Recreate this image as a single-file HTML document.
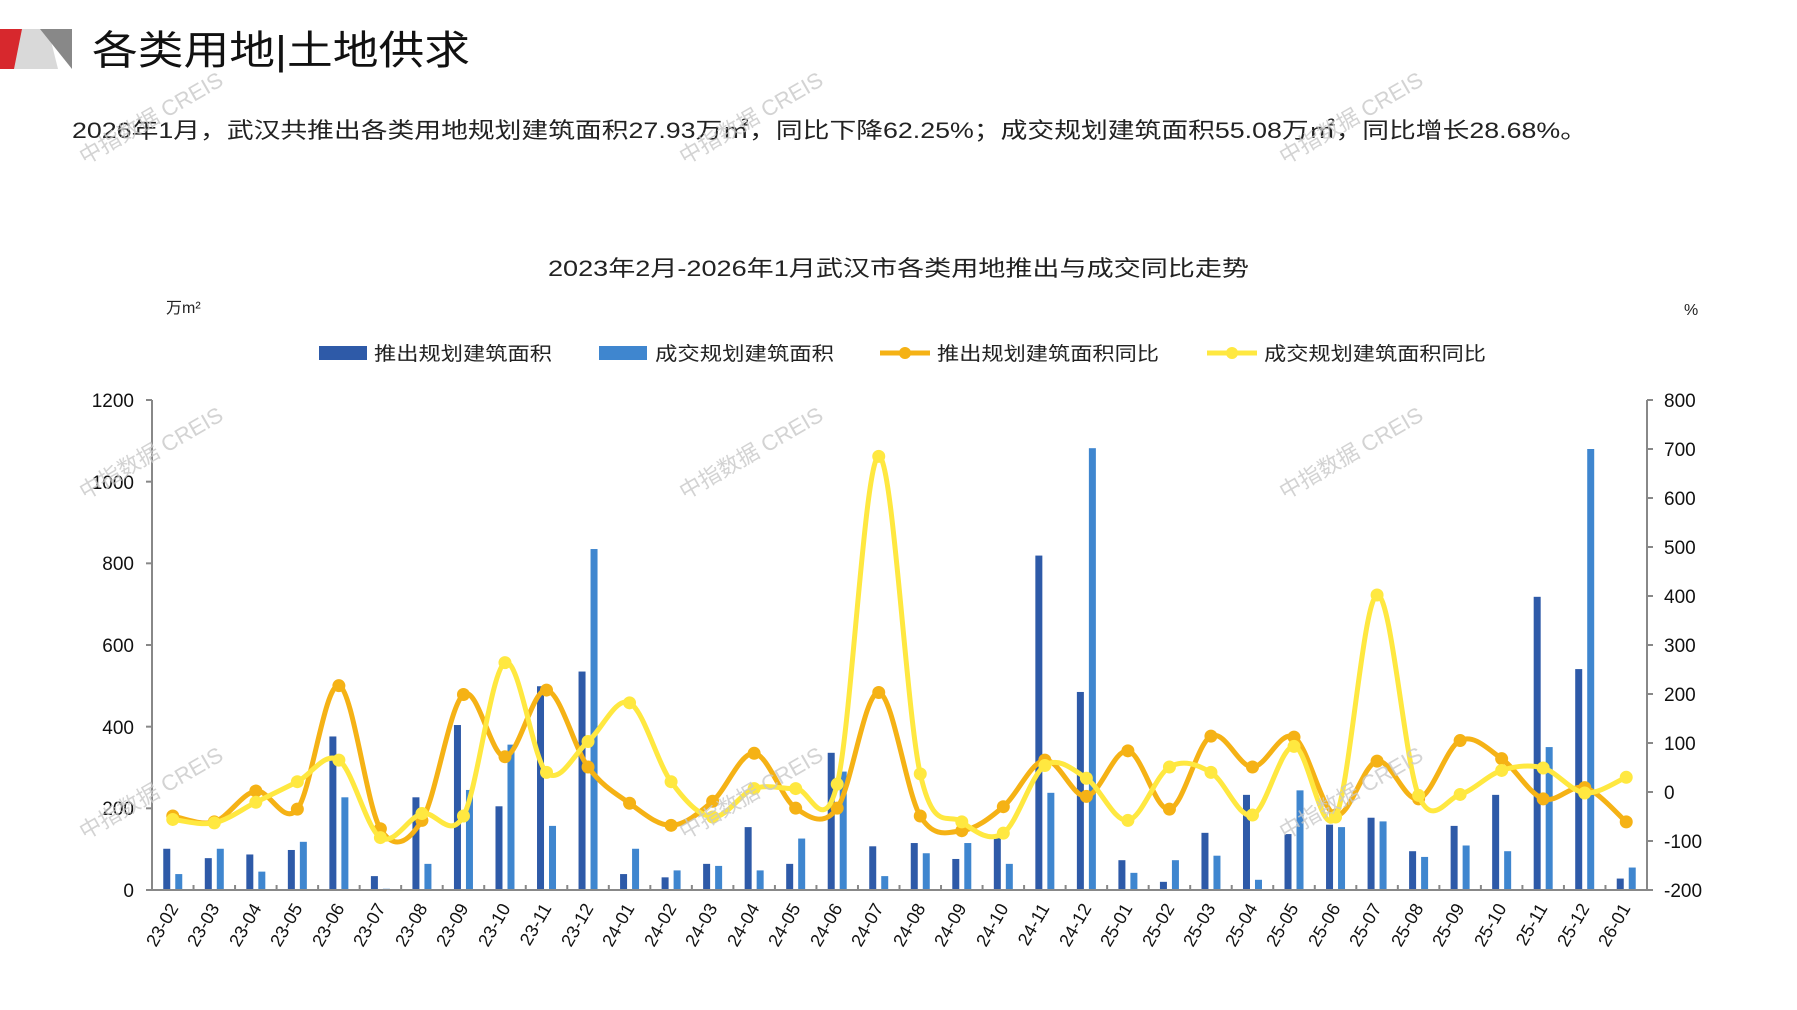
<!DOCTYPE html>
<html><head><meta charset="utf-8">
<style>
body{margin:0;background:#fff;width:1797px;height:1010px;overflow:hidden;font-family:"Liberation Sans","Noto Sans CJK SC",sans-serif;}
svg{position:absolute;left:0;top:0}
</style></head><body>
<svg id="s" width="1797" height="1010" xmlns="http://www.w3.org/2000/svg" font-family="'Liberation Sans','Noto Sans CJK SC',sans-serif">
<polygon points="0,29 30,29 22,69 0,69" fill="#d7282d"/>
<polygon points="22,29 48,29 58,69 14,69" fill="#d9d9d9"/>
<polygon points="40,29 72,29 72,69" fill="#888"/>
<text x="92" y="64" font-size="40" fill="#111" textLength="378" lengthAdjust="spacingAndGlyphs">各类用地|土地供求</text>
<text x="72" y="138" font-size="22" fill="#222" textLength="1515" lengthAdjust="spacingAndGlyphs">2026年1月，武汉共推出各类用地规划建筑面积27.93万㎡，同比下降62.25%；成交规划建筑面积55.08万㎡，同比增长28.68%。</text>
<text x="548" y="276" font-size="22" fill="#222" textLength="701" lengthAdjust="spacingAndGlyphs">2023年2月-2026年1月武汉市各类用地推出与成交同比走势</text>
<text x="166" y="313" font-size="16" fill="#222">万m²</text>
<text x="1684" y="315" font-size="16" fill="#222">%</text>
<g font-size="19" fill="#222">
<rect x="319" y="346" width="48" height="14" fill="#2E5AA8"/><text x="374" y="360" textLength="178" lengthAdjust="spacingAndGlyphs">推出规划建筑面积</text>
<rect x="599" y="346" width="48" height="14" fill="#3F86CF"/><text x="655" y="360" textLength="179" lengthAdjust="spacingAndGlyphs">成交规划建筑面积</text>
<line x1="880" y1="353" x2="930" y2="353" stroke="#F5B215" stroke-width="5"/><circle cx="905" cy="353" r="6" fill="#F5B215"/><text x="937" y="360" textLength="222" lengthAdjust="spacingAndGlyphs">推出规划建筑面积同比</text>
<line x1="1207" y1="353" x2="1257" y2="353" stroke="#FFE840" stroke-width="5"/><circle cx="1232" cy="353" r="6" fill="#FFE840"/><text x="1264" y="360" textLength="222" lengthAdjust="spacingAndGlyphs">成交规划建筑面积同比</text>
</g>
<g font-size="19" fill="#111" text-anchor="end">
<text x="134" y="407">1200</text><text x="134" y="489">1000</text><text x="134" y="570">800</text><text x="134" y="652">600</text><text x="134" y="734">400</text><text x="134" y="815">200</text><text x="134" y="897">0</text>
</g>
<g font-size="19" fill="#111">
<text x="1664" y="407">800</text><text x="1664" y="456">700</text><text x="1664" y="505">600</text><text x="1664" y="554">500</text><text x="1664" y="603">400</text><text x="1664" y="652">300</text><text x="1664" y="701">200</text><text x="1664" y="750">100</text><text x="1664" y="799">0</text><text x="1664" y="848">-100</text><text x="1664" y="897">-200</text>
</g>
<g id="bars"></g>
<g id="axes" stroke="#888" stroke-width="2"></g>
<g id="lines"></g>
<g font-size="18" fill="#111" text-anchor="end" id="xl">
<text transform="translate(179,908) rotate(-60)">23-02</text>
<text transform="translate(220,908) rotate(-60)">23-03</text>
<text transform="translate(262,908) rotate(-60)">23-04</text>
<text transform="translate(303,908) rotate(-60)">23-05</text>
<text transform="translate(345,908) rotate(-60)">23-06</text>
<text transform="translate(386,908) rotate(-60)">23-07</text>
<text transform="translate(428,908) rotate(-60)">23-08</text>
<text transform="translate(469,908) rotate(-60)">23-09</text>
<text transform="translate(511,908) rotate(-60)">23-10</text>
<text transform="translate(552,908) rotate(-60)">23-11</text>
<text transform="translate(594,908) rotate(-60)">23-12</text>
<text transform="translate(635,908) rotate(-60)">24-01</text>
<text transform="translate(677,908) rotate(-60)">24-02</text>
<text transform="translate(718,908) rotate(-60)">24-03</text>
<text transform="translate(760,908) rotate(-60)">24-04</text>
<text transform="translate(801,908) rotate(-60)">24-05</text>
<text transform="translate(843,908) rotate(-60)">24-06</text>
<text transform="translate(884,908) rotate(-60)">24-07</text>
<text transform="translate(926,908) rotate(-60)">24-08</text>
<text transform="translate(967,908) rotate(-60)">24-09</text>
<text transform="translate(1009,908) rotate(-60)">24-10</text>
<text transform="translate(1050,908) rotate(-60)">24-11</text>
<text transform="translate(1092,908) rotate(-60)">24-12</text>
<text transform="translate(1133,908) rotate(-60)">25-01</text>
<text transform="translate(1175,908) rotate(-60)">25-02</text>
<text transform="translate(1216,908) rotate(-60)">25-03</text>
<text transform="translate(1258,908) rotate(-60)">25-04</text>
<text transform="translate(1299,908) rotate(-60)">25-05</text>
<text transform="translate(1341,908) rotate(-60)">25-06</text>
<text transform="translate(1382,908) rotate(-60)">25-07</text>
<text transform="translate(1424,908) rotate(-60)">25-08</text>
<text transform="translate(1465,908) rotate(-60)">25-09</text>
<text transform="translate(1507,908) rotate(-60)">25-10</text>
<text transform="translate(1548,908) rotate(-60)">25-11</text>
<text transform="translate(1590,908) rotate(-60)">25-12</text>
<text transform="translate(1631,908) rotate(-60)">26-01</text>
</g>
<g font-size="22" fill="#c8c8c8" opacity="0.8">
<text transform="translate(85,165) rotate(-30)">中指数据 CREIS</text>
<text transform="translate(685,165) rotate(-30)">中指数据 CREIS</text>
<text transform="translate(1285,165) rotate(-30)">中指数据 CREIS</text>
<text transform="translate(85,500) rotate(-30)">中指数据 CREIS</text>
<text transform="translate(685,500) rotate(-30)">中指数据 CREIS</text>
<text transform="translate(1285,500) rotate(-30)">中指数据 CREIS</text>
<text transform="translate(85,840) rotate(-30)">中指数据 CREIS</text>
<text transform="translate(685,840) rotate(-30)">中指数据 CREIS</text>
<text transform="translate(1285,840) rotate(-30)">中指数据 CREIS</text>
</g>
</svg>
<script>
var L=152,R=1647,Y0=890,T=400,N=36,W=(R-L)/N;
var dark=[101,78,87,98,376,34,227,404,205,499,535,39,31,64,154,64,336,107,115,76,132,819,485,73,20,140,233,137,160,177,95,157,233,718,541,28];
var light=[39,101,45,118,227,3,64,245,356,157,835,101,48,59,48,126,290,34,90,115,64,238,1082,42,73,84,25,244,154,168,81,109,95,350,1080,55];
var org=[-49,-61,2,-35,217,-75,-58,199,72,208,51,-23,-68,-19,79,-33,-33,203,-49,-79,-30,65,-9,84,-35,114,51,112,-47,63,-14,105,68,-14,9,-61];
var yel=[-56,-63,-21,21,65,-93,-44,-49,264,40,103,182,21,-51,7,7,16,685,37,-61,-84,54,28,-58,51,40,-47,93,-51,402,-7,-5,44,49,-2,30];
var ns="http://www.w3.org/2000/svg";
function el(g,t,a){var e=document.createElementNS(ns,t);for(var k in a)e.setAttribute(k,a[k]);document.getElementById(g).appendChild(e);return e;}
function yl(v){return Y0-v*(Y0-T)/1200;}
function yr(v){return Y0-(v+200)*(Y0-T)/1000;}
for(var i=0;i<N;i++){var c=L+W*(i+.5);
el("bars","rect",{x:c-9.5,y:yl(dark[i]),width:7,height:Y0-yl(dark[i]),fill:"#2E5AA8"});
el("bars","rect",{x:c+2.5,y:yl(light[i]),width:7,height:Y0-yl(light[i]),fill:"#3F86CF"});}
el("axes","line",{x1:L,y1:T,x2:L,y2:Y0});el("axes","line",{x1:R,y1:T,x2:R,y2:Y0});el("axes","line",{x1:L,y1:Y0,x2:R,y2:Y0});
for(var i=0;i<=N;i++)el("axes","line",{x1:L+W*i,y1:Y0,x2:L+W*i,y2:Y0-5});
[0,200,400,600,800,1000,1200].forEach(function(v){el("axes","line",{x1:L-6,y1:yl(v),x2:L,y2:yl(v)});});
for(var v=-200;v<=800;v+=100)el("axes","line",{x1:R,y1:yr(v),x2:R+6,y2:yr(v)});
function curve(d,col){var p=d.map(function(v,i){return[L+W*(i+.5),yr(v)];});
var s="M"+p[0][0]+","+p[0][1];
for(var i=0;i<p.length-1;i++){var p0=p[i-1]||p[i],p1=p[i],p2=p[i+1],p3=p[i+2]||p2;
s+=" C"+(p1[0]+(p2[0]-p0[0])/6)+","+(p1[1]+(p2[1]-p0[1])/6)+" "+(p2[0]-(p3[0]-p1[0])/6)+","+(p2[1]-(p3[1]-p1[1])/6)+" "+p2[0]+","+p2[1];}
el("lines","path",{d:s,fill:"none",stroke:col,"stroke-width":5});
p.forEach(function(q){el("lines","circle",{cx:q[0],cy:q[1],r:6.5,fill:col});});}
curve(org,"#F5B215");curve(yel,"#FFE840");
</script>
</body></html>
